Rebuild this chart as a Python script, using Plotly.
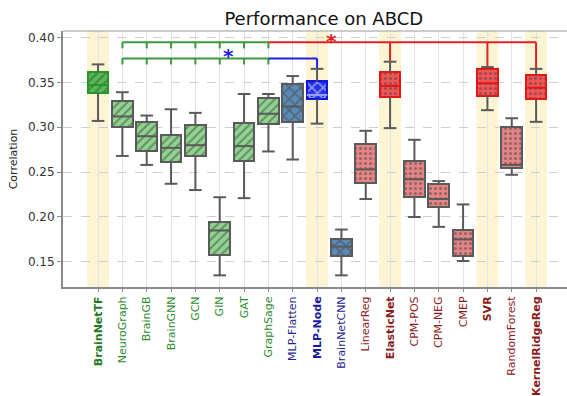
import plotly.graph_objects as go

labels = ["BrainNetTF", "NeuroGraph", "BrainGB", "BrainGNN", "GCN", "GIN", "GAT", "GraphSage",
          "MLP-Flatten", "MLP-Node", "BrainNetCNN", "LinearReg", "ElasticNet", "CPM-POS",
          "CPM-NEG", "CMEP", "SVR", "RandomForest", "KernelRidgeReg"]
whisker_low = [0.307, 0.268, 0.258, 0.237, 0.230, 0.135, 0.221, 0.273, 0.264, 0.304, 0.135,
               0.220, 0.299, 0.200, 0.189, 0.151, 0.319, 0.247, 0.306]
q1 = [0.338, 0.300, 0.273, 0.261, 0.268, 0.158, 0.262, 0.304, 0.306, 0.331, 0.156,
      0.238, 0.334, 0.222, 0.211, 0.157, 0.335, 0.255, 0.331]
median = [0.347, 0.312, 0.290, 0.277, 0.280, 0.185, 0.279, 0.315, 0.323, 0.336, 0.167,
          0.253, 0.346, 0.242, 0.220, 0.175, 0.349, 0.258, 0.344]
q3 = [0.362, 0.329, 0.306, 0.291, 0.302, 0.194, 0.305, 0.333, 0.348, 0.351, 0.176,
      0.281, 0.361, 0.262, 0.237, 0.186, 0.365, 0.300, 0.358]
whisker_high = [0.370, 0.339, 0.313, 0.320, 0.316, 0.222, 0.337, 0.337, 0.357, 0.365, 0.186,
                0.296, 0.373, 0.286, 0.240, 0.214, 0.367, 0.310, 0.365]
groups = ["tf", "gnn", "gnn", "gnn", "gnn", "gnn", "gnn", "gnn",
          "mlp", "mlpbest", "mlp", "ml", "mlbest", "ml", "ml", "ml", "mlbest", "ml", "mlbest"]
highlighted = ["BrainNetTF", "MLP-Node", "ElasticNet", "SVR", "KernelRidgeReg"]
compared_gnn = ["NeuroGraph", "BrainGB", "BrainGNN", "GCN", "GIN", "GAT", "GraphSage"]
red_targets = ["ElasticNet", "SVR", "KernelRidgeReg"]
blue_target = "MLP-Node"

styles = {
    "tf":      dict(fill="#52bd52", fg="#a6e6a6", shape="/", edge="#2a962a", tick="#1f7a1f", bold=True),
    "gnn":     dict(fill="#8fd48f", fg="#3f9a3f", shape="/", edge="#5a5a5a", tick="#2e8b2e", bold=False),
    "mlp":     dict(fill="#5b8ab5", fg="#9cc6ea", shape="x", edge="#5a5a5a", tick="#1f1f8f", bold=False),
    "mlpbest": dict(fill="#2233e6", fg="#7f9cff", shape="x", edge="#1414e0", tick="#1a1aa0", bold=True),
    "ml":      dict(fill="#e58484", fg="#b04444", shape=".", edge="#5a5a5a", tick="#8b1a1a", bold=False),
    "mlbest":  dict(fill="#f25555", fg="#b52020", shape=".", edge="#e01818", tick="#8b1a1a", bold=True),
}

idx = list(range(len(labels)))
pos = {lab: i for i, lab in enumerate(labels)}
BW = 0.85
WHISK = "#5a5a5a"
FONT = "DejaVu Sans"

fig = go.Figure()

# boxes as bars with pattern fill
fig.add_trace(go.Bar(
    x=idx, base=q1, y=[b - a for a, b in zip(q1, q3)], width=BW,
    marker=dict(
        color=[styles[g]["fill"] for g in groups],
        line=dict(color=[styles[g]["edge"] for g in groups], width=2),
        pattern=dict(shape=[styles[g]["shape"] for g in groups],
                     fgcolor=[styles[g]["fg"] for g in groups],
                     size=[6 if styles[g]["shape"] == "/" else (5 if styles[g]["shape"] == "." else 8) for g in groups],
                     solidity=[0.35 if styles[g]["shape"] != "." else 0.3 for g in groups]),
    ),
    showlegend=False, hoverinfo="skip",
))

# whiskers and caps
wx, wy = [], []
for i in idx:
    wx += [i, i, None, i, i, None, i - 0.26, i + 0.26, None, i - 0.26, i + 0.26, None]
    wy += [q3[i], whisker_high[i], None, q1[i], whisker_low[i], None,
           whisker_high[i], whisker_high[i], None, whisker_low[i], whisker_low[i], None]
fig.add_trace(go.Scatter(x=wx, y=wy, mode="lines", line=dict(color=WHISK, width=2),
                         showlegend=False, hoverinfo="skip"))

# medians
for i in idx:
    g = groups[i]
    col = styles[g]["edge"] if g in ("tf", "mlbest") else ("#a0a0ff" if g == "mlpbest" else WHISK)
    fig.add_trace(go.Scatter(x=[i - BW / 2, i + BW / 2], y=[median[i], median[i]], mode="lines",
                             line=dict(color=col, width=2), showlegend=False, hoverinfo="skip"))

# significance brackets
GREEN, RED, BLUE = "#3c9a3c", "#e02222", "#2020e0"
top_y, top_tick = 0.3946, 0.3878
mid_y, mid_tick = 0.3767, 0.3699
first, last = pos[compared_gnn[0]], pos[compared_gnn[-1]]
shapes = []
for lab in highlighted:
    i = pos[lab]
    shapes.append(dict(type="rect", xref="x", yref="paper", x0=i - 0.45, x1=i + 0.45, y0=0, y1=1,
                       fillcolor="#fcf4d2", line=dict(width=0), layer="below"))
for yy, yt in ((top_y, top_tick), (mid_y, mid_tick)):
    shapes.append(dict(type="line", x0=first, x1=last, y0=yy, y1=yy, line=dict(color=GREEN, width=2)))
    for lab in compared_gnn:
        i = pos[lab]
        shapes.append(dict(type="line", x0=i, x1=i, y0=yy, y1=yt, line=dict(color=GREEN, width=2)))
rlast = pos[red_targets[-1]]
shapes.append(dict(type="line", x0=last, x1=rlast, y0=top_y, y1=top_y, line=dict(color=RED, width=2)))
for lab in red_targets:
    i = pos[lab]
    shapes.append(dict(type="line", x0=i, x1=i, y0=top_y, y1=whisker_high[i] + 0.001,
                       line=dict(color=RED, width=2)))
bi = pos[blue_target]
shapes.append(dict(type="line", x0=last, x1=bi, y0=mid_y, y1=mid_y, line=dict(color=BLUE, width=2)))
shapes.append(dict(type="line", x0=bi, x1=bi, y0=mid_y, y1=whisker_high[bi] + 0.001,
                   line=dict(color=BLUE, width=2)))
shapes.append(dict(type="line", xref="paper", yref="paper", x0=0, x1=1, y0=1, y1=1,
                   line=dict(color="#9a9a9a", width=1.2)))

annotations = [
    dict(x=5.35, y=0.3835, text="<b>*</b>", showarrow=False, font=dict(size=20, color=BLUE, family=FONT),
         xanchor="center", yanchor="middle", yshift=-4),
    dict(x=9.6, y=0.4005, text="<b>*</b>", showarrow=False, font=dict(size=20, color=RED, family=FONT),
         xanchor="center", yanchor="middle", yshift=-4),
]

ticktext = []
for lab, g in zip(labels, groups):
    s = styles[g]
    t = f"<b>{lab}</b>" if s["bold"] else lab
    ticktext.append(f"<span style='color:{s['tick']}'>{t}</span>")

fig.update_layout(
    width=567, height=396,
    margin=dict(l=63, r=0, t=31, b=100),
    paper_bgcolor="white", plot_bgcolor="white",
    font=dict(family=FONT, color="#333333"),
    title=dict(text="Performance on ABCD", x=0.571, xanchor="center", y=0.952, yanchor="middle",
               font=dict(size=18, color="#111111", family=FONT)),
    shapes=shapes, annotations=annotations,
    bargap=0, showlegend=False,
    xaxis=dict(range=[-1.44, 19.27], tickmode="array", tickvals=idx, ticktext=ticktext,
               tickangle=-90, tickfont=dict(size=11, family=FONT),
               showgrid=True, gridcolor="#e2e2ec", gridwidth=1,
               showline=True, linecolor="#8a8a8a", linewidth=2,
               ticks="outside", ticklen=3, tickcolor="#8a8a8a", zeroline=False),
    yaxis=dict(range=[0.122, 0.4072], tickmode="array", tickvals=[0.15, 0.20, 0.25, 0.30, 0.35, 0.40],
               tickformat=".2f", tickfont=dict(size=12, family=FONT, color="#333333"),
               showgrid=True, gridcolor="#cfcfcf", griddash="dash", gridwidth=1,
               showline=True, linecolor="#8a8a8a", linewidth=2,
               ticks="outside", ticklen=4, tickcolor="#8a8a8a", zeroline=False,
               title=dict(text="Correlation", font=dict(size=11, family=FONT, color="#222222"), standoff=8)),
)

fig.write_html("out.html")
